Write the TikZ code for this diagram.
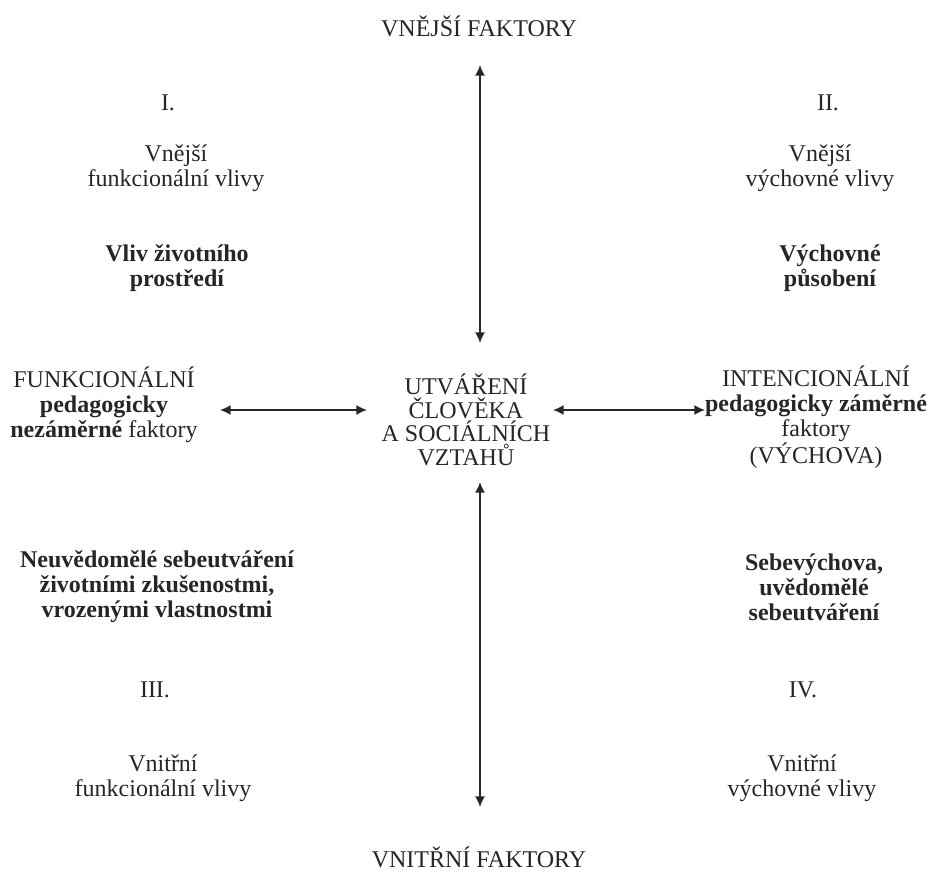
\documentclass[tikz,border=0pt]{standalone}
\usepackage{fontspec}
\setmainfont{Liberation Serif}
\usetikzlibrary{arrows.meta}
\definecolor{txt}{HTML}{262626}
\tikzset{
  lbl/.style={inner sep=0pt, align=center, text=txt, font=\fontsize{18}{18.8}\selectfont},
  lblc/.style={inner sep=0pt, align=center, text=txt, font=\fontsize{18}{17.6}\selectfont},
  bld/.style={lbl, font=\fontsize{18}{18.8}\selectfont\bfseries},
  conn/.style={line width=1.2pt, draw=black!85, {Latex[length=8pt,width=7.5pt]}-{Latex[length=8pt,width=7.5pt]}}
}
\begin{document}
\begin{tikzpicture}[x=0.75pt,y=-0.75pt]
\useasboundingbox[fill=white] (0,0) rectangle (940,873);

% axis ends
\node[lbl] (outer) at (479,26) {VNĚJŠÍ FAKTORY};
\node[lbl] (inner) at (479,857) {VNITŘNÍ FAKTORY};

% quadrant numbers
\node[lbl] (q1) at (168,103) {I.};
\node[lbl] (q2) at (828,103) {II.};
\node[lbl] (q3) at (155,690) {III.};
\node[lbl] (q4) at (803,690) {IV.};

% quadrant descriptions
\node[lbl] (d1) at (176,168) {Vnější\\funkcionální vlivy};
\node[lbl] (d2) at (820,168) {Vnější\\výchovné vlivy};
\node[lbl] (d3) at (163,778) {Vnitřní\\funkcionální vlivy};
\node[lbl] (d4) at (802,778) {Vnitřní\\výchovné vlivy};

% bold statements
\node[bld] (b1) at (177,268) {Vliv životního\\prostředí};
\node[bld] (b2) at (830,268) {Výchovné\\působení};
\node[bld] (b3) at (157,587) {Neuvědomělé sebeutváření\\životními zkušenostmi,\\vrozenými vlastnostmi};
\node[bld] (b4) at (814,587) {Sebevýchova,\\uvědomělé\\sebeutváření};

% middle row
\node[lbl] (left) at (104,405) {FUNKCIONÁLNÍ\\\textbf{pedagogicky}\\\textbf{nezáměrné} faktory};
\node[lblc] (center) at (466,420) {UTVÁŘENÍ\\ČLOVĚKA\\A SOCIÁLNÍCH\\VZTAHŮ};
\node[lbl] (right) at (816,417) {INTENCIONÁLNÍ\\\textbf{pedagogicky záměrné}\\faktory\\(VÝCHOVA)};

% arrow end points
\coordinate (ta) at (480,65);
\coordinate (tb) at (480,343);
\coordinate (ba) at (480,482);
\coordinate (bb) at (480,807);
\coordinate (la) at (220,410);
\coordinate (lb) at (367,410);
\coordinate (ra) at (553,410);
\coordinate (rb) at (705,410);

\draw[conn] (ta) -- (tb);
\draw[conn] (ba) -- (bb);
\draw[conn] (la) -- (lb);
\draw[conn] (ra) -- (rb);
\end{tikzpicture}
\end{document}
